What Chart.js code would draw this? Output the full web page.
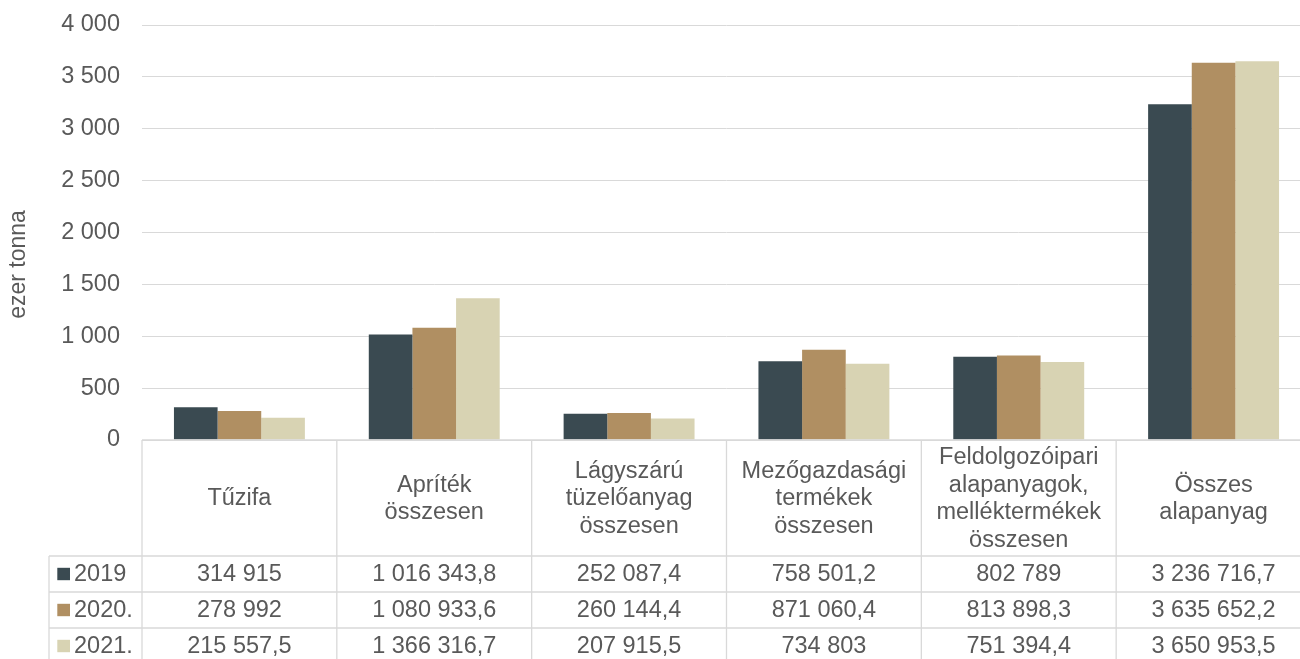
<!DOCTYPE html>
<html>
<head>
<meta charset="utf-8">
<script src="https://cdn.jsdelivr.net/npm/chart.js@4/dist/chart.umd.min.js"></script>
<style>
  html, body { margin: 0; padding: 0; background: #fff; overflow: hidden; }
  #wrap { width: 1312px; height: 659px; position: relative; }
</style>
</head>
<body>
<div id="wrap"><canvas id="c"></canvas></div>
<script>
// ---- data (tonnes) ----
const categories = [
  ["Tűzifa"],
  ["Apríték", "összesen"],
  ["Lágyszárú", "tüzelőanyag", "összesen"],
  ["Mezőgazdasági", "termékek", "összesen"],
  ["Feldolgozóipari", "alapanyagok,", "melléktermékek", "összesen"],
  ["Összes", "alapanyag"]
];
const seriesLabels = ["2019", "2020.", "2021."];
const values2019 = [314915, 1016343.8, 252087.4, 758501.2, 802789, 3236716.7];
const values2020 = [278992, 1080933.6, 260144.4, 871060.4, 813898.3, 3635652.2];
const values2021 = [215557.5, 1366316.7, 207915.5, 734803, 751394.4, 3650953.5];
const seriesValues = [values2019, values2020, values2021];
const colors = ["#3A4A51", "#B08F62", "#D8D3B3"];
const yMin = 0, yMax = 4000, yStep = 500;
const axisTitle = "ezer tonna";

const FONT = "'Liberation Sans', Arial, sans-serif";
const TXT = "#595959";
const LINE = "#d9d9d9";

function fmt(v) {
  const s = String(v);
  const parts = s.split(".");
  let ip = parts[0];
  let out = "";
  while (ip.length > 3) {
    out = " " + ip.slice(-3) + out;
    ip = ip.slice(0, -3);
  }
  out = ip + out;
  if (parts[1]) out += "," + parts[1];
  return out;
}

const tablePlugin = {
  id: "dataTable",
  afterDraw(chart) {
    const ctx = chart.ctx;
    const area = chart.chartArea;
    const xs = chart.scales.x;
    const n = categories.length;
    const w = (area.right - area.left) / n;
    const top = area.bottom;
    const headerH = 116;
    const rowH = 36;
    const leftX = 49;
    const rowsTop = top + headerH;
    ctx.save();
    ctx.strokeStyle = LINE;
    ctx.lineWidth = 1.3;
    ctx.beginPath();
    ctx.moveTo(area.left, top); ctx.lineTo(area.right, top);
    for (let r = 0; r <= seriesValues.length; r++) {
      const y = rowsTop + r * rowH;
      ctx.moveTo(leftX, y); ctx.lineTo(area.right, y);
    }
    const bottom = rowsTop + seriesValues.length * rowH;
    for (let i = 0; i <= n; i++) {
      const x = area.left + i * w;
      ctx.moveTo(x, top); ctx.lineTo(x, bottom);
    }
    ctx.moveTo(leftX, rowsTop); ctx.lineTo(leftX, bottom);
    ctx.stroke();

    ctx.fillStyle = TXT;
    ctx.font = "23.5px " + FONT;
    ctx.textAlign = "center";
    ctx.textBaseline = "middle";
    const lh = 27.7;
    for (let i = 0; i < n; i++) {
      const cx = xs.getPixelForValue(i);
      const lines = categories[i];
      const cy = top + headerH / 2 + 1;
      const y0 = cy - (lines.length - 1) * lh / 2;
      lines.forEach((t, k) => ctx.fillText(t, cx, y0 + k * lh));
      for (let r = 0; r < seriesValues.length; r++) {
        ctx.fillText(fmt(seriesValues[r][i]), cx, rowsTop + r * rowH + rowH / 2 + 1);
      }
    }
    ctx.textAlign = "left";
    for (let r = 0; r < seriesValues.length; r++) {
      const cy = rowsTop + r * rowH + rowH / 2;
      ctx.fillStyle = colors[r];
      ctx.fillRect(57.3, cy - 6.2, 12.7, 12.4);
      ctx.fillStyle = TXT;
      ctx.fillText(seriesLabels[r], 74, cy + 1);
    }
    ctx.restore();
  }
};

const datasets = seriesValues.map((vals, i) => ({
  label: seriesLabels[i],
  data: vals.map(v => v / 1000),
  backgroundColor: colors[i],
  borderWidth: 0,
  categoryPercentage: 0.672,
  barPercentage: 1.0
}));

new Chart(document.getElementById("c"), {
  type: "bar",
  data: { labels: categories.map(c => c.join(" ")), datasets },
  plugins: [tablePlugin],
  options: {
    responsive: true,
    maintainAspectRatio: false,
    animation: false,
    layout: { padding: { left: 0, right: 1, top: 25, bottom: 219 } },
    plugins: { legend: { display: false }, tooltip: { enabled: false } },
    scales: {
      x: { display: false, grid: { display: false } },
      y: {
        min: yMin, max: yMax,
        afterFit(scale) {
          scale.width = 142;
          scale.paddingTop = 0;
          scale.paddingBottom = 0;
        },
        border: { display: false },
        grid: { color: LINE, lineWidth: 1, drawTicks: false },
        ticks: {
          stepSize: yStep,
          padding: 22,
          color: TXT,
          font: { family: FONT, size: 23.5 },
          callback: v => fmt(v)
        },
        title: {
          display: true,
          text: axisTitle + "\u00a0".repeat(10),
          color: TXT,
          font: { family: FONT, size: 23 },
          padding: { top: 5, bottom: 0 }
        }
      }
    }
  }
});
</script>
</body>
</html>
